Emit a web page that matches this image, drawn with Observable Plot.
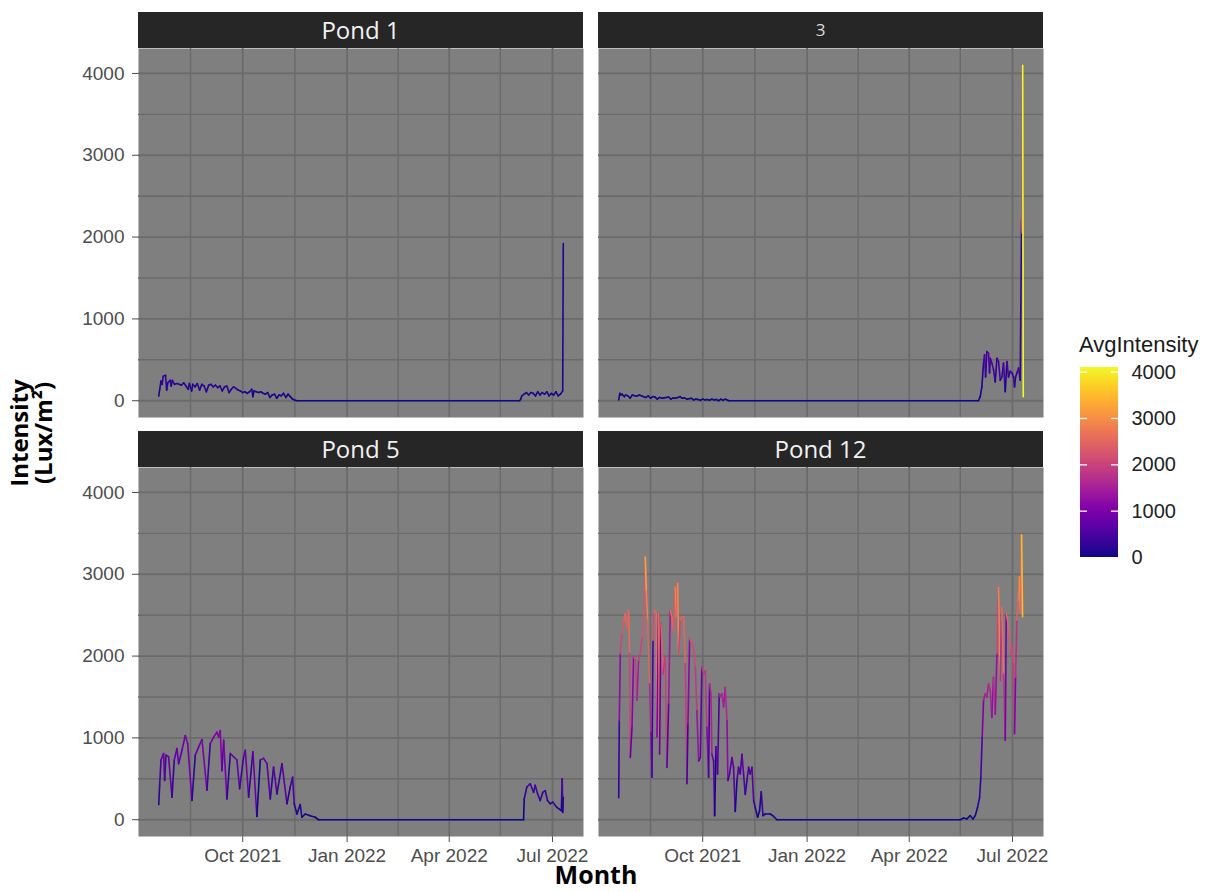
<!DOCTYPE html>
<html>
<head>
<meta charset="utf-8">
<script src="https://cdn.jsdelivr.net/npm/d3@7"></script>
<script src="https://cdn.jsdelivr.net/npm/@observablehq/plot@0.6"></script>
<style>
  body { margin: 0; background: #ffffff; }
  #chart { position: relative; width: 1212px; height: 892px; overflow: hidden; font-family: "Liberation Sans", Arial, sans-serif; }
  .abs { position: absolute; }
  .strip { position: absolute; width: 445px; height: 36px; line-height: 36px; background: #262626; color: #f2f2f2;
           font-family: "Open Sans", sans-serif; font-size: 24px; text-align: center; }
  .ytitle { position: absolute; width: 200px; left: -69px; top: 409px; text-align: center; font-family: "Open Sans", sans-serif;
            font-weight: 700; font-size: 24px; line-height: 24px; color: #000; transform: rotate(-90deg); transform-origin: 50% 50%; }
  .xtitle { position: absolute; width: 200px; left: 496px; top: 864px; height: 20px; text-align: center; font-family: "Open Sans", sans-serif;
            font-weight: 700; font-size: 25px; line-height: 20px; color: #000; }
  .ltitle { position: absolute; left: 1079px; top: 334px; font-family: "Liberation Sans", Arial, sans-serif; font-size: 22px; line-height: 22px; color: #1a1a1a; }
</style>
</head>
<body>
<div id="chart"></div>
<script>
// ---------- data (days since 2021-07-01, AvgIntensity in Lux/m²) ----------
const pondLabels = ["Pond 1", "3", "Pond 5", "Pond 12"];

const p1Days = [18,19,20,21,22,24,25,26,28,29,30,32,34,36,38,40,42,44,45,47,48,50,52,54,56,58,60,62,64,66,68,70,72,74,76,78,80,82,84,86,88,90,92,94,96,98,100,101,102,104,106,108,110,112,114,116,118,120,122,124,126,128,130,132,134,136,138,140,336,337,338,340,342,344,346,348,350,352,354,356,358,360,362,364,366,368,370,372,374,374.5];
const p1Vals = [55,150,240,200,300,310,130,220,250,180,250,200,210,200,190,220,180,140,210,120,200,170,210,130,200,180,110,190,200,170,190,160,180,120,170,180,100,140,170,150,130,120,100,110,90,110,140,50,120,110,100,110,90,80,100,40,70,80,30,70,60,90,40,80,50,20,5,0,0,20,60,80,100,70,100,90,60,110,70,100,80,110,60,90,70,110,60,80,120,1920];

const p3Days = [18,19,20,21,23,24,26,28,30,32,34,36,38,40,42,44,46,48,50,52,54,56,58,60,62,64,66,68,70,72,74,76,78,80,82,84,86,88,90,92,94,96,98,100,102,104,106,108,110,112,114,115,335,336.6,338,339.5,340.4,341.3,342.4,343.9,344.8,345.4,346.8,348.3,349.8,351.3,352.7,354.2,355.6,357.1,358.6,360.1,361.5,363,364.5,365.9,366.8,367.7,368.9,370.4,371.8,373,373.6,374,374.5];
const p3Vals = [10,90,70,80,50,70,60,30,70,60,55,70,60,50,40,60,30,50,45,20,40,30,35,40,45,20,35,30,40,50,30,35,20,25,30,10,20,15,5,20,10,15,5,20,10,15,0,20,5,20,5,0,0,50,170,460,560,290,600,580,340,520,460,380,230,520,480,250,290,460,110,480,290,360,340,290,170,290,340,400,250,2210,2050,4100,50];

const p5Days = [18,18.8,20,22.3,23.2,24.4,26.7,29.7,31.7,34.1,35.5,38.5,41.4,43.5,47.3,50.2,53.2,56.1,60.5,63.4,66.4,69.3,70.8,72.2,73.7,75.2,78.1,81.1,84,86.9,89.3,92.8,94.3,97.2,101,104.5,107.5,110.4,113.4,116.3,119.2,122.2,126.6,131,133.9,136,137.4,139.8,142.7,144.2,147.1,151.5,155.9,158.9,339.5,340.1,342.4,345.4,348.3,349.8,351.9,354.2,356.5,358.6,360.6,363,365.3,368.9,371,372.8,373.6,374,374.5];
const p5Vals = [185,420,730,810,480,790,770,275,730,870,685,850,1030,930,235,790,890,980,360,930,1010,1070,1010,1090,600,970,255,810,770,730,380,770,850,275,830,40,730,750,685,255,645,315,685,195,400,520,195,70,185,30,70,50,30,0,0,255,400,440,335,420,315,235,335,355,235,195,215,150,130,110,500,90,275];

const p12Days = [18,18.5,19.4,20.9,22.3,23.8,25.3,26.7,27.6,28.2,29.7,31.1,32.6,34.1,35.5,37,38.5,39.9,41.4,42.3,43.5,45.2,46.4,47.3,48.2,49.3,51.1,51.7,53.2,54,55.2,57,59,60.5,62,63.4,64.9,66.4,67.8,68.7,69.9,70.8,72.2,73.7,75.2,76.7,78.1,79,80.5,82.5,84,85.5,86.9,88.4,89.9,91.3,92.8,94.3,95.7,97.2,98.1,99.3,100.1,101.6,102.5,103.7,105.1,106.6,107.5,109,110.4,111.9,113.4,114.2,115.7,117.8,119.2,120.7,122.2,123.6,125.1,126.6,128,129.5,131,132.5,133.9,135.4,136.9,138.3,140.4,142.1,143.6,145.1,147.1,151.6,154.5,157.4,318.9,321.9,324.8,327.8,330.1,332.2,334.2,336,337.1,338.3,339.5,341,342.4,343.9,345.4,346.8,348.3,349.8,351.3,352.7,354.2,355.6,357.1,358.6,359.5,360.6,361.5,362.4,363.6,364.5,365.9,366.8,367.7,368.9,370,371.2,372.1,373,373.9];
const p12Vals = [270,1210,2030,2270,2420,2520,2350,2560,2030,760,1130,1990,1950,1460,1950,2030,2230,2270,3210,2800,2440,1660,1070,520,2190,2560,2520,1010,2520,800,2400,1780,1990,640,1420,2560,2480,2310,2840,2480,2890,2030,2440,2480,2480,1910,440,1170,2210,2150,2110,1870,1330,720,760,1870,1780,1820,1130,520,1660,1540,800,720,50,890,560,1540,1500,1540,1380,1620,1210,480,560,760,640,100,480,640,560,800,560,310,480,640,560,640,230,150,30,110,340,50,70,70,40,0,0,20,10,50,10,50,150,270,520,1010,1460,1540,1500,1660,1580,1250,1740,1290,2030,2840,1700,2600,1780,970,2520,2440,2310,2270,2030,2110,1910,1050,1740,2440,2680,2970,2520,3480,2480];

const xMajorDates = ["2021-10-01", "2022-01-01", "2022-04-01", "2022-07-01"];
const xMinorDates = ["2021-08-16", "2021-11-16", "2022-02-15", "2022-05-16"];
const yMajor = [0, 1000, 2000, 3000, 4000];
const yMinor = [500, 1500, 2500, 3500];
const legendTicks = [0, 1000, 2000, 3000, 4000];

// ---------- build ----------
const t0 = Date.UTC(2021, 6, 1);
const toDate = d => new Date(t0 + d * 864e5);
const majorDates = xMajorDates.map(s => new Date(s + "T00:00:00Z"));
const minorDates = xMinorDates.map(s => new Date(s + "T00:00:00Z"));

const ponds = [
  {label: pondLabels[0], days: p1Days, vals: p1Vals},
  {label: pondLabels[1], days: p3Days, vals: p3Vals},
  {label: pondLabels[2], days: p5Days, vals: p5Vals},
  {label: pondLabels[3], days: p12Days, vals: p12Vals}
];

const allDays = ponds.flatMap(p => p.days);
const allVals = ponds.flatMap(p => p.vals);
const dMin = d3.min(allDays), dMax = d3.max(allDays);
const dPad = (dMax - dMin) * 0.05;
const xDomain = [toDate(dMin - dPad), toDate(dMax + dPad)];
const vMin = d3.min(allVals), vMax = d3.max(allVals);
const yDomain = [vMin - 0.05 * (vMax - vMin), vMax + 0.05 * (vMax - vMin)];

const colorScale = {type: "linear", scheme: "plasma", domain: [vMin, vMax]};
const gridColor = "#6b6b6b";

function segments(p) {
  const out = [];
  for (let i = 0; i < p.days.length - 1; i++) {
    out.push({x1: toDate(p.days[i]), y1: p.vals[i], x2: toDate(p.days[i + 1]), y2: p.vals[i + 1], v: p.vals[i]});
  }
  return out;
}

function panel(p, left, bottom) {
  const ml = left ? 60 : 0, mb = bottom ? 40 : 0;
  return Plot.plot({
    width: 445 + ml, height: 369 + mb,
    marginLeft: ml, marginRight: 0, marginTop: 0, marginBottom: mb,
    style: {fontFamily: "'Liberation Sans', Arial, sans-serif", fontSize: "19px", color: "#4d4d4d", background: "transparent", overflow: "visible"},
    x: {type: "utc", domain: xDomain, axis: bottom ? "bottom" : null, ticks: majorDates, tickFormat: d3.utcFormat("%b %Y"), tickSize: 6, tickPadding: 6, label: null},
    y: {domain: yDomain, axis: left ? "left" : null, ticks: yMajor, tickFormat: d => String(d), tickSize: 6, tickPadding: 8, label: null},
    color: colorScale,
    marks: [
      Plot.frame({fill: "#7f7f7f", stroke: "none"}),
      Plot.ruleX(minorDates, {stroke: gridColor, strokeWidth: 1.4}),
      Plot.ruleX(majorDates, {stroke: gridColor, strokeWidth: 1.8}),
      Plot.ruleY(yMinor, {stroke: gridColor, strokeWidth: 1.4}),
      Plot.ruleY(yMajor, {stroke: gridColor, strokeWidth: 1.8}),
      Plot.link(segments(p), {x1: "x1", y1: "y1", x2: "x2", y2: "y2", stroke: "v", strokeWidth: 1.6, strokeLinecap: "round"})
    ]
  });
}

const chart = document.getElementById("chart");
const layout = [
  {left: true,  bottom: false, px: 138, py: 48,  sy: 12},
  {left: false, bottom: false, px: 598, py: 48,  sy: 12},
  {left: true,  bottom: true,  px: 138, py: 467, sy: 431},
  {left: false, bottom: true,  px: 598, py: 467, sy: 431}
];
ponds.forEach((p, i) => {
  const L = layout[i];
  const svg = panel(p, L.left, L.bottom);
  svg.classList.add("abs");
  svg.style.left = (L.px - (L.left ? 60 : 0)) + "px";
  svg.style.top = L.py + "px";
  chart.appendChild(svg);
  const strip = document.createElement("div");
  strip.className = "strip";
  strip.style.left = L.px + "px";
  strip.style.top = L.sy + "px";
  strip.textContent = p.label;
  if (p.label === "3") { strip.style.fontSize = "17px"; strip.style.color = "#dcdcdc"; }
  chart.appendChild(strip);
});

// axis titles
const yt = document.createElement("div");
yt.className = "ytitle";
yt.innerHTML = "Intensity<br>(Lux/m\u00B2)";
chart.appendChild(yt);
const xt = document.createElement("div");
xt.className = "xtitle";
xt.textContent = "Month";
chart.appendChild(xt);

// legend
const lt = document.createElement("div");
lt.className = "ltitle";
lt.textContent = "AvgIntensity";
chart.appendChild(lt);

const nSteps = 95;
const legendSteps = d3.range(nSteps).map(i => ({
  y1: vMin + (vMax - vMin) * i / nSteps,
  y2: vMin + (vMax - vMin) * (i + 1) / nSteps,
  v: vMin + (vMax - vMin) * (i + 0.5) / nSteps
}));
const legend = Plot.plot({
  width: 38 + 80, height: 190,
  marginLeft: 0, marginRight: 80, marginTop: 0, marginBottom: 0,
  style: {fontFamily: "'Liberation Sans', Arial, sans-serif", fontSize: "20px", color: "#222", background: "transparent", overflow: "visible"},
  x: {domain: [0, 1], axis: null},
  y: {domain: [vMin, vMax], axis: "right", ticks: legendTicks, tickFormat: d => String(d), tickSize: 0, tickPadding: 13, label: null},
  color: colorScale,
  marks: [
    Plot.rect(legendSteps, {y1: "y1", y2: "y2", fill: "v", shapeRendering: "crispEdges"}),
    Plot.tickY(legendTicks.slice(1), {y: d => d, stroke: "white", strokeWidth: 1.3, insetRight: 31}),
    Plot.tickY(legendTicks.slice(1), {y: d => d, stroke: "white", strokeWidth: 1.3, insetLeft: 31})
  ]
});
legend.classList.add("abs");
legend.style.left = "1080px";
legend.style.top = "367px";
chart.appendChild(legend);
</script>
</body>
</html>
